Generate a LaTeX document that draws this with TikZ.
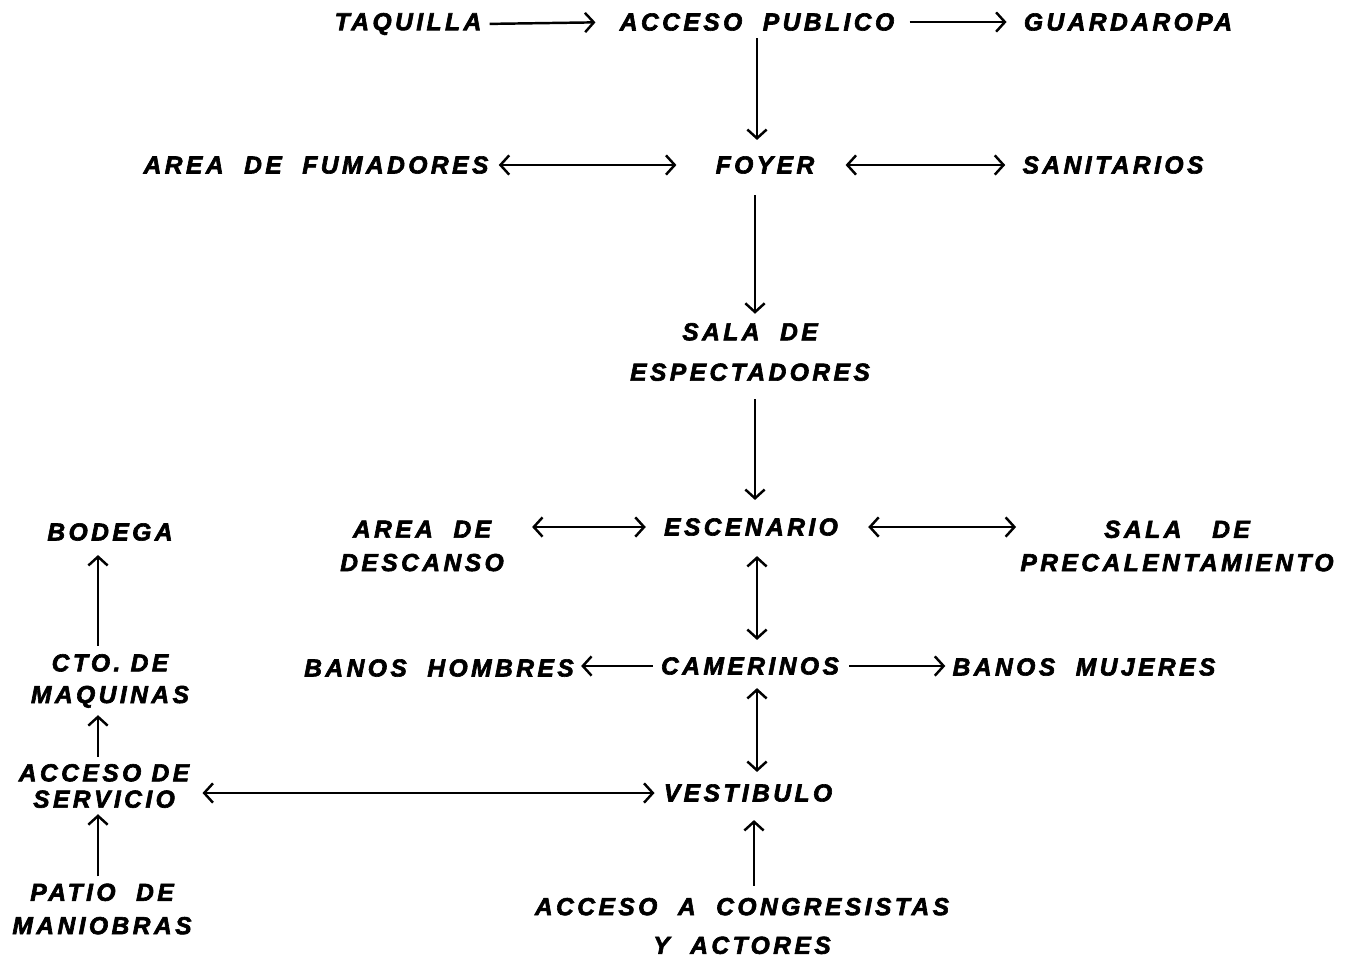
\documentclass[tikz,border=0pt]{standalone}
\usepackage{fontspec}
\setmainfont{Liberation Sans}
\newfontfamily\roomfont[LetterSpace=14,BoldItalicFeatures={FakeBold=2.5}]{Liberation Sans}
\usetikzlibrary{arrows.meta}
\tikzset{>={Straight Barb[length=5pt,width=11pt]}}
\tikzset{
  room/.style={font=\roomfont\bfseries\itshape\fontsize{14}{19}\selectfont,
    align=center, inner sep=0pt},
  link/.style={line width=1.4pt}
}

\begin{document}
\begin{tikzpicture}[x=0.02cm,y=-0.02cm]
    \useasboundingbox (0,0) rectangle (1346,961);
    \coordinate (spine) at (98,0);
    %
    \node (taquilla) at (408,24) [room] {TAQUILLA};
    \node (acceso) at (757,22) [room] {ACCESO\ \ PUBLICO};
    \node (guardaropa) at (1128,22) [room] {GUARDAROPA};
    \node (fumadores) at (316,165) [room] {AREA\ \ DE\ \ FUMADORES};
    \node (foyer) at (765,165) [room] {FOYER};
    \node (sanitarios) at (1113,165) [room] {SANITARIOS};
    \node (sala) at (750,352) [room] {SALA\ \ DE\\[4pt] ESPECTADORES};
    \node (escenario) at (751,527) [room] {ESCENARIO};
    \node (descanso) at (422,546) [room] {AREA\ \ DE\\ DESCANSO};
    \node (precal) at (1177,546) [room] {SALA\ \ \ DE\\ PRECALENTAMIENTO};
    \node (camerinos) at (750,666) [room] {CAMERINOS};
    \node (hombres) at (439,668) [room] {BANOS\ \ HOMBRES};
    \node (mujeres) at (1084,667) [room] {BANOS\ \ MUJERES};
    \node (vestibulo) at (748,793) [room] {VESTIBULO};
    \node (congresistas) at (742,926) [room] {ACCESO\ \ A\ \ CONGRESISTAS\\[3pt] Y\ \ ACTORES};
    %
    \node (bodega) at (110,532) [room] {BODEGA};
    \node (maquinas) at (110,681) [room] {CTO.\ DE\\[-1pt] MAQUINAS};
    \node (servicio) at (104,786) [room] {ACCESO\ DE\\[-4pt] SERVICIO};
    \node (patio) at (102,909) [room] {PATIO\ \ DE\\ MANIOBRAS};
    %public side
    \draw [link,->,shorten <=0.16cm,shorten >=0.48cm] (taquilla.east) -- (acceso.west);
    \draw [link,->,shorten <=0.30cm,shorten >=0.34cm] (acceso.east) -- (guardaropa.west);
    \draw [link,->,shorten <=0.14cm,shorten >=0.32cm] (acceso.south) -- (acceso.south |- foyer.north);
    \draw [link,<->,shorten <=0.20cm,shorten >=0.78cm] (fumadores.east) -- (foyer.west);
    \draw [link,<->,shorten <=0.62cm,shorten >=0.34cm] (foyer.east) -- (sanitarios.west);
    \draw [link,->,shorten <=0.42cm,shorten >=0.18cm] ([xshift=-0.2cm]foyer.south) -- ([xshift=-0.2cm]foyer.south |- sala.north);
    \draw [link,->,shorten <=0.36cm,shorten >=0.36cm] ([xshift=0.1cm]sala.south) -- ([xshift=0.1cm]sala.south |- escenario.north);
    %stage side
    \draw [link,<->,shorten <=0.36cm,shorten >=0.56cm] (escenario.west) -- (escenario.west -| descanso.east);
    \draw [link,<->,shorten <=0.60cm,shorten >=0.08cm] (escenario.east) -- (escenario.east -| precal.west);
    \draw [link,<->,shorten <=0.40cm,shorten >=0.34cm] ([xshift=0.12cm]escenario.south) -- ([xshift=0.12cm]escenario.south |- camerinos.north);
    \draw [link,->,shorten <=0.16cm,shorten >=0.14cm] (camerinos.west) -- (camerinos.west -| hombres.east);
    \draw [link,->,shorten <=0.20cm,shorten >=0.14cm] (camerinos.east) -- (camerinos.east -| mujeres.west);
    \draw [link,<->,shorten <=0.26cm,shorten >=0.24cm] ([xshift=0.14cm]camerinos.south) -- ([xshift=0.14cm]camerinos.south |- vestibulo.north);
    \draw [link,<->,shorten <=0.18cm,shorten >=0.26cm] (vestibulo.west) -- (vestibulo.west -| servicio.east);
    \draw [link,->,shorten <=0.24cm,shorten >=0.36cm] ([xshift=0.24cm]congresistas.north) -- ([xshift=0.24cm]congresistas.north |- vestibulo.south);
    %service side
    \draw [link,->,shorten <=0.14cm,shorten >=0.12cm] (patio.north -| spine) -- (servicio.south -| spine);
    \draw [link,->,shorten <=0.14cm,shorten >=0.14cm] (servicio.north -| spine) -- (maquinas.south -| spine);
    \draw [link,->,shorten <=0.16cm,shorten >=0.28cm] (maquinas.north -| spine) -- (bodega.south -| spine);
\end{tikzpicture}
\end{document}
